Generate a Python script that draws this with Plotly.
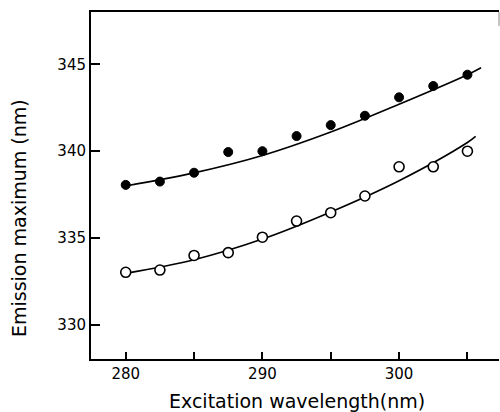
import plotly.graph_objects as go

# Data
wavelength = [280, 282.5, 285, 287.5, 290, 292.5, 295, 297.5, 300, 302.5, 305]
filled_max = [338.06, 338.25, 338.76, 339.95, 340.0, 340.87, 341.5, 342.04, 343.1, 343.75, 344.4]
open_max = [333.03, 333.16, 334.0, 334.16, 335.05, 335.98, 336.46, 337.42, 339.1, 339.1, 340.0]

# Smooth fitted curves
fit_x_filled = [280, 285, 290, 295, 300, 305, 306]
fit_filled = [338.0, 338.75, 339.75, 341.1, 342.7, 344.4, 344.8]
fit_x_open = [280, 285, 290, 295, 300, 305, 305.6]
fit_open = [332.97, 333.75, 334.94, 336.5, 338.3, 340.5, 340.85]

x_ticks = [280, 285, 290, 295, 300, 305]
x_ticktext = ["280", "", "290", "", "300", ""]
y_ticks = [330, 335, 340, 345]

x_title = "Excitation wavelength(nm)"
y_title = "Emission maximum (nm)"

FONT = "DejaVu Sans"

fig = go.Figure()
fig.add_trace(go.Scatter(x=fit_x_filled, y=fit_filled, mode="lines",
                         line=dict(color="black", width=1.6, shape="spline"),
                         hoverinfo="skip", showlegend=False))
fig.add_trace(go.Scatter(x=fit_x_open, y=fit_open, mode="lines",
                         line=dict(color="black", width=1.6, shape="spline"),
                         hoverinfo="skip", showlegend=False))
fig.add_trace(go.Scatter(x=wavelength, y=filled_max, mode="markers",
                         marker=dict(symbol="circle", size=9, color="black",
                                     line=dict(color="black", width=1)),
                         showlegend=False))
fig.add_trace(go.Scatter(x=wavelength, y=open_max, mode="markers",
                         marker=dict(symbol="circle", size=10, color="white",
                                     line=dict(color="black", width=1.6)),
                         showlegend=False))

fig.update_layout(
    width=500, height=412,
    margin=dict(l=91, r=1, t=12, b=53, autoexpand=False),
    paper_bgcolor="white", plot_bgcolor="white",
    font=dict(family=FONT, color="black", size=15),
    showlegend=False,
)
fig.update_xaxes(
    range=[277.46, 307.31], showgrid=False, zeroline=False, automargin=False,
    showline=True, linecolor="black", linewidth=2, mirror=True,
    ticks="inside", ticklen=7, tickwidth=1.5, tickcolor="black",
    tickvals=x_ticks, ticktext=x_ticktext,
    tickfont=dict(family=FONT, size=15, color="black"),
)
fig.update_yaxes(
    range=[328.04, 348.01], showgrid=False, zeroline=False, automargin=False,
    showline=True, linecolor="black", linewidth=2,
    ticks="inside", ticklen=9, tickwidth=1.5, tickcolor="black",
    tickvals=y_ticks,
    tickfont=dict(family=FONT, size=15, color="black"),
)
# axis titles placed as in the reference
fig.add_annotation(text=x_title, xref="paper", yref="paper", x=0.5037, y=-0.121,
                   xanchor="center", yanchor="middle", showarrow=False,
                   font=dict(family=FONT, size=19, color="black"))
fig.add_annotation(text=y_title, xref="paper", yref="paper", x=-0.1765, y=0.4063,
                   xanchor="center", yanchor="middle", showarrow=False, textangle=-90,
                   font=dict(family=FONT, size=19, color="black"))
# partial right border stub visible at top-right of the frame
fig.add_shape(type="line", xref="paper", yref="paper", x0=1, x1=1, y0=1, y1=0.96,
              line=dict(color="#888888", width=1))

fig.write_html("out.html", config={"displayModeBar": False},
               post_script="document.body.style.margin='0';document.documentElement.style.overflow='hidden';")
